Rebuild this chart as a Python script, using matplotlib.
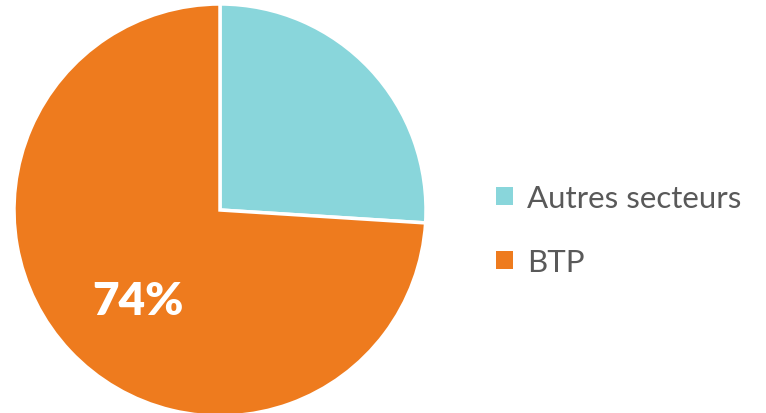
import matplotlib.pyplot as plt
from matplotlib.patches import Patch

labels = ['Autres secteurs', 'BTP']
values = [26, 74]
colors = ['#89D6DB', '#EE7B1E']
shown = [None, '74%']

fig = plt.figure(figsize=(7.66, 4.14), dpi=100)
ax = fig.add_axes([14 / 766, -3 / 414, 412 / 766, 412 / 414])

wedges, _ = ax.pie(values, colors=colors, startangle=90, counterclock=False,
                   radius=1, wedgeprops={'edgecolor': 'white', 'linewidth': 2.5})
ax.set_xlim(-1.0, 1.0)
ax.set_ylim(-1.0, 1.0)
ax.set_aspect('equal')

ax.text(-0.40, -0.44, shown[1], color='white', fontsize=33, fontweight='heavy',
        family='Lato', ha='center', va='center')

handles = [Patch(facecolor=c, edgecolor='none') for c in colors]
fig.legend(handles, labels, loc='center left', bbox_to_anchor=(468 / 766, 1 - 231 / 414),
           frameon=False, labelcolor='#595959', prop={'family': 'Lato', 'size': 22.5},
           handlelength=0.55, handleheight=0.55, handletextpad=0.45, labelspacing=1.15)

fig.savefig('out.png', dpi=100)
